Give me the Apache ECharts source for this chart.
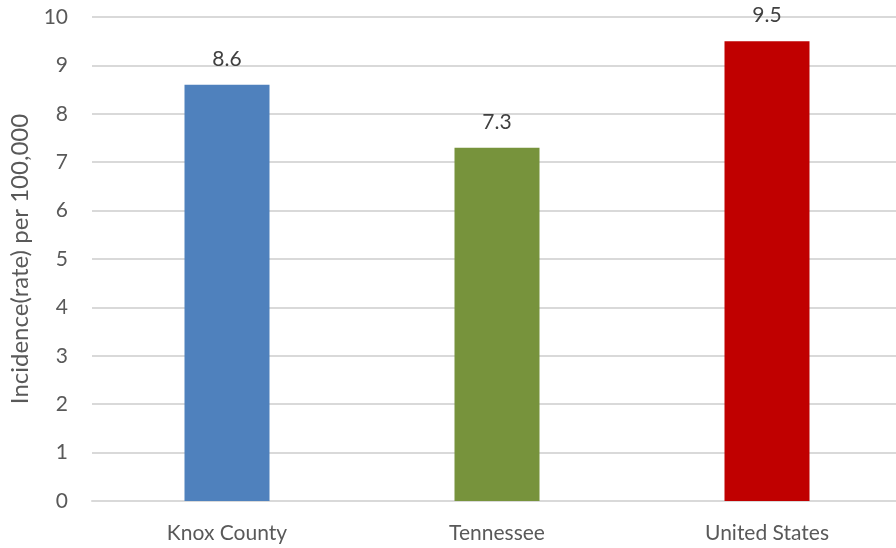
<!DOCTYPE html>
<html><head><meta charset="utf-8">
<script src="https://cdn.jsdelivr.net/npm/echarts@6/dist/echarts.min.js"></script>
<style>html,body{margin:0;padding:0;background:#fff}#c{width:896px;height:548px}</style>
</head><body><div id="c"></div>
<script>
const categories = ["Knox County", "Tennessee", "United States"];
const values = [8.6, 7.3, 9.5];
const colors = ["#4F81BD", "#77933C", "#C00000"];
const yTicks = [0, 1, 2, 3, 4, 5, 6, 7, 8, 9, 10];
const yTitle = "Incidence(rate) per 100,000";

const chart = echarts.init(document.getElementById('c'));
const font = "Lato, 'Open Sans', sans-serif";
chart.setOption({
  animation: false,
  grid: { left: 92, width: 810, top: 17, bottom: 47, containLabel: false, outerBoundsMode: 'none' },
  xAxis: {
    type: 'category', data: categories,
    axisLine: { lineStyle: { color: '#D9D9D9', width: 2 } },
    axisTick: { show: false },
    axisLabel: { color: '#595959', fontSize: 21, fontFamily: font, margin: 22 }
  },
  yAxis: {
    type: 'value', min: yTicks[0], max: yTicks[yTicks.length - 1], interval: 1,
    name: yTitle, nameLocation: 'middle', nameGap: 59,
    nameTextStyle: { color: '#595959', fontSize: 24, fontFamily: font },
    axisLine: { show: false }, axisTick: { show: false },
    axisLabel: { color: '#595959', fontSize: 21, fontFamily: font, margin: 24 },
    splitLine: { lineStyle: { color: '#D9D9D9', width: 2 } }
  },
  series: [{
    type: 'bar', barWidth: 85,
    data: values.map((v, i) => ({ value: v, itemStyle: { color: colors[i] } })),
    label: { show: true, position: 'top', distance: 15, color: '#404040', fontSize: 21, fontFamily: font }
  }]
});
</script></body></html>
